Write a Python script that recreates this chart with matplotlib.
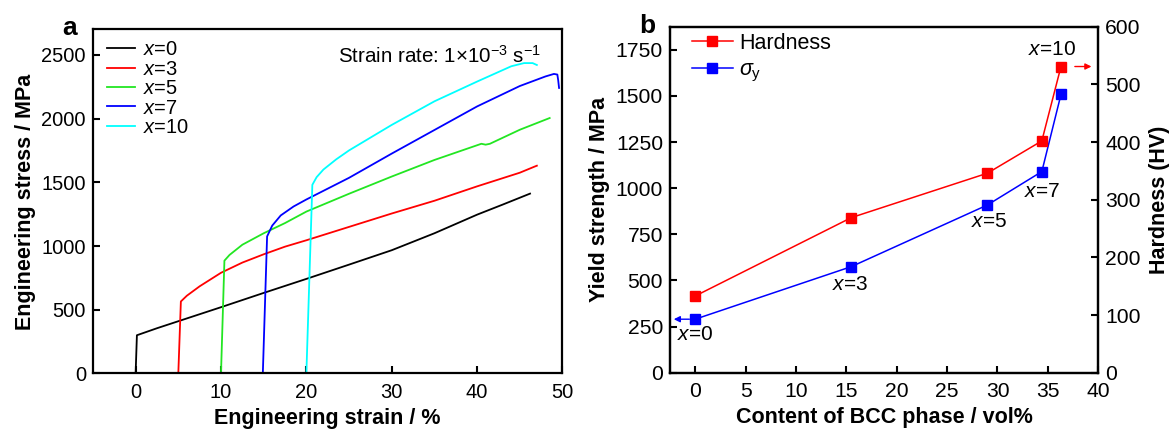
import matplotlib
matplotlib.use("Agg")
import matplotlib.pyplot as plt

plt.rcParams['font.family'] = ['Liberation Sans', 'DejaVu Sans']
plt.rcParams['mathtext.fontset'] = 'custom'
plt.rcParams['mathtext.rm'] = 'Liberation Sans'
plt.rcParams['mathtext.it'] = 'Liberation Sans:italic'
plt.rcParams['mathtext.bf'] = 'Liberation Sans:bold'

# ---------------- Panel a data: engineering stress-strain ----------------
strain_x0 = [0.0, 0.15, 2.5, 5, 10, 15, 20, 25, 30, 35, 40, 43, 46.2]
stress_x0 = [0, 300, 355, 410, 520, 632, 742, 854, 967, 1100, 1246, 1325, 1411]

strain_x3 = [5.0, 5.3, 6, 7.5, 10, 12.5, 15, 17.5, 20, 25, 30, 35, 40, 45, 46.7, 47.0]
stress_x3 = [0, 565, 610, 684, 790, 870, 935, 995, 1045, 1150, 1255, 1355, 1468, 1575, 1622, 1630]

strain_x5 = [10.0, 10.4, 11, 12.5, 15, 17.5, 20, 25, 30, 35, 40.5, 41, 41.5, 45, 48.5]
stress_x5 = [0, 885, 930, 1010, 1100, 1180, 1270, 1410, 1545, 1675, 1802, 1795, 1802, 1912, 2004]

strain_x7 = [14.9, 15.4, 16, 17, 18.5, 20, 22.5, 25, 30, 35, 40, 45, 48, 49, 49.4, 49.5, 49.6]
stress_x7 = [0, 1075, 1160, 1240, 1310, 1365, 1450, 1535, 1725, 1910, 2095, 2255, 2330, 2350, 2345, 2300, 2240]

strain_x10 = [20.0, 20.7, 21.2, 22, 23.5, 25, 27.5, 30, 35, 40, 44, 45.5, 46.5, 47.0]
stress_x10 = [0, 1480, 1540, 1600, 1680, 1750, 1850, 1950, 2135, 2290, 2410, 2435, 2435, 2420]

curve_labels = ['0', '3', '5', '7', '10']
curve_colors = ['#000000', '#ff0000', '#22e622', '#0000ff', '#00ffff']

# ---------------- Panel b data ----------------
bcc_content = [0, 15.5, 29.0, 34.4, 36.3]
hardness_hv = [133, 269, 346, 402, 531]
yield_mpa = [290, 575, 909, 1090, 1508]
point_labels = ['0', '3', '5', '7', '10']

W, H = 1175, 429
fig = plt.figure(figsize=(W / 100, H / 100), dpi=100)

LABEL_FS = 15.5

# ---------------- Panel a ----------------
axa = fig.add_axes([0.0791, 0.1294, 0.3996, 0.8023])
strains = [strain_x0, strain_x3, strain_x5, strain_x7, strain_x10]
stresses = [stress_x0, stress_x3, stress_x5, stress_x7, stress_x10]
for s, t, lab, c in zip(strains, stresses, curve_labels, curve_colors):
    axa.plot(s, t, color=c, lw=1.3, label=r'$\it{x}$=' + lab)
axa.set_xlim(-5, 50)
axa.set_ylim(0, 2700)
axa.set_xticks([0, 10, 20, 30, 40, 50])
axa.set_yticks([0, 500, 1000, 1500, 2000, 2500])
axa.set_xlabel('Engineering strain / %', fontsize=LABEL_FS, fontweight='bold', labelpad=4.5)
axa.set_ylabel('Engineering stress / MPa', fontsize=LABEL_FS, fontweight='bold', labelpad=4)
axa.tick_params(direction='in', length=5, width=1.5, labelsize=14.5)
axa.tick_params(axis='x', pad=6.5)
axa.tick_params(axis='y', pad=5)
for sp in axa.spines.values():
    sp.set_linewidth(1.6)
axa.legend(loc='upper left', frameon=False, fontsize=14.5, labelspacing=0.02,
           handlelength=1.4, handletextpad=0.4, borderaxespad=0, borderpad=0,
           bbox_to_anchor=(14 / 469, 1 - 11 / 344))
axa.text(0.955, 0.922, 'Strain rate: 1×10$^{-3}$ s$^{-1}$', transform=axa.transAxes,
         ha='right', va='center', fontsize=14.8)
fig.text(70 / W, 1 - 35 / H, 'a', fontsize=19, fontweight='bold', ha='center', va='baseline')

# ---------------- Panel b ----------------
axb = fig.add_axes([0.5702, 0.1312, 0.3645, 0.8065])
axh = axb.twinx()
axb.set_xlim(-2.5, 40)
axb.set_ylim(0, 1875)
axh.set_ylim(0, 600)
lh, = axh.plot(bcc_content, hardness_hv, color='#ff0000', lw=1.1, marker='s', ms=7,
               label='Hardness')
ly, = axb.plot(bcc_content, yield_mpa, color='#0000ff', lw=1.1, marker='s', ms=7,
               label=r'$\sigma_{\rm y}$')
axb.set_xticks(range(0, 41, 5))
axb.set_yticks(range(0, 1751, 250))
axh.set_yticks(range(0, 601, 100))
axb.set_xlabel('Content of BCC phase / vol%', fontsize=LABEL_FS, fontweight='bold', labelpad=4.5)
axb.set_ylabel('Yield strength / MPa', fontsize=LABEL_FS, fontweight='bold', labelpad=4)
axh.set_ylabel('Hardness (HV)', fontsize=LABEL_FS, fontweight='bold', labelpad=6)
for ax in (axb, axh):
    ax.tick_params(direction='in', length=5, width=1.5, labelsize=15.2)
    for sp in ax.spines.values():
        sp.set_linewidth(1.6)
axb.tick_params(axis='x', pad=6.5)
axb.tick_params(axis='y', pad=5)
axh.tick_params(axis='y', pad=5)
axb.legend([lh, ly], ['Hardness', r'$\sigma_{\rm y}$'], loc='upper left', frameon=False,
           fontsize=15.5, labelspacing=0.25, handlelength=1.9, handletextpad=0.3,
           borderaxespad=0, borderpad=0, bbox_to_anchor=(22 / 428, 1 - 6 / 346))

# point annotations (text on the yield-strength axis)
ann_pos = [(0.0, 205), (15.4, 476), (29.2, 817), (34.4, 980), (35.4, 1750)]
for (px, py), lab in zip(ann_pos, point_labels):
    axb.text(px, py, r'$\it{x}$=' + lab, ha='center', va='center', fontsize=15)

# arrows pointing at the relevant axes
axb.annotate('', xy=(-2.4, yield_mpa[0]), xytext=(bcc_content[0] - 0.3, yield_mpa[0]),
             arrowprops=dict(arrowstyle='-|>', color='#0000ff', lw=1.0, mutation_scale=9))
axh.annotate('', xy=(39.6, hardness_hv[-1]), xytext=(bcc_content[-1] + 1.1, hardness_hv[-1]),
             arrowprops=dict(arrowstyle='-|>', color='#ff0000', lw=1.0, mutation_scale=9))
fig.text(647 / W, 1 - 33 / H, 'b', fontsize=19, fontweight='bold', ha='center', va='baseline')

fig.savefig('out.png', dpi=100)
